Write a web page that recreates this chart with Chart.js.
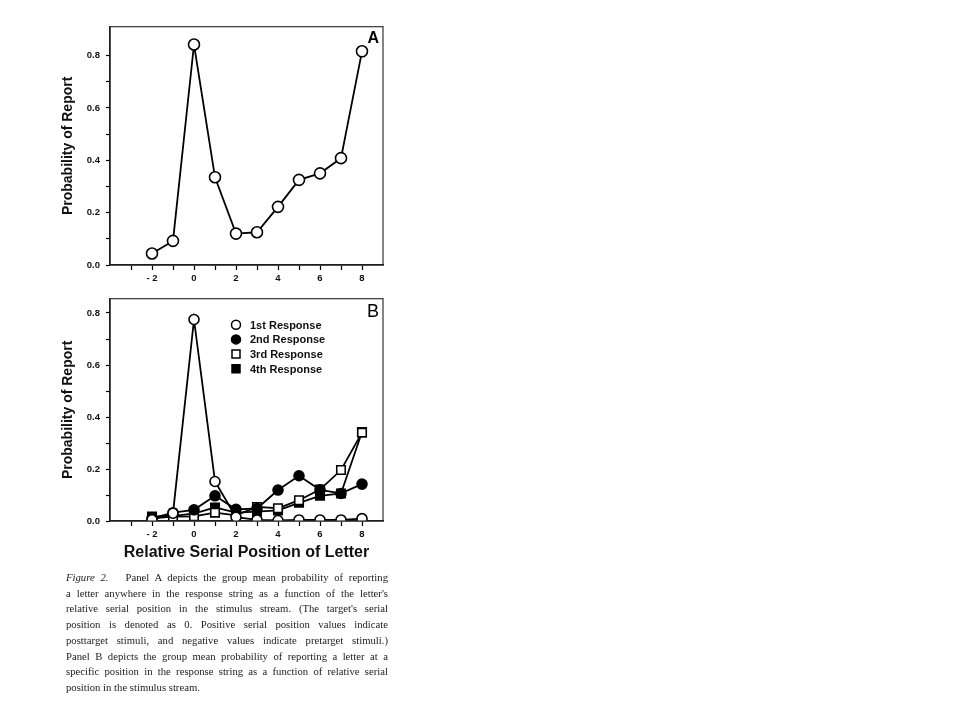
<!DOCTYPE html>
<html>
<head>
<meta charset="utf-8">
<script src="https://cdn.jsdelivr.net/npm/chart.js@4.4.0/dist/chart.umd.min.js"></script>
<style>
  body { margin: 0; background: #fff; width: 960px; height: 720px; position: relative; overflow: hidden; }
  .panel { position: absolute; left: 40px; width: 355px; height: 275px; }
  #caption { position: absolute; left: 66px; top: 570px; width: 322px;
    font-family: "Liberation Serif", "DejaVu Serif", serif; font-size: 10.7px; color: #222; }
  #caption div { text-align: justify; text-align-last: justify; line-height: 15.7px; white-space: nowrap; }
  #caption div.last { text-align-last: left; }
</style>
</head>
<body>
<div class="panel" style="top:15px"><canvas id="chartA"></canvas></div>
<div class="panel" style="top:287px"><canvas id="chartB"></canvas></div>
<div id="caption">
  <div><i>Figure 2.</i>&nbsp;&nbsp; Panel A depicts the group mean probability of reporting</div>
  <div>a letter anywhere in the response string as a function of the letter's</div>
  <div>relative serial position in the stimulus stream. (The target's serial</div>
  <div>position is denoted as 0. Positive serial position values indicate</div>
  <div>posttarget stimuli, and negative values indicate pretarget stimuli.)</div>
  <div>Panel B depicts the group mean probability of reporting a letter at a</div>
  <div>specific position in the response string as a function of relative serial</div>
  <div class="last">position in the stimulus stream.</div>
</div>
<script>
// serial positions relative to the target
const positions = [-2, -1, 0, 1, 2, 3, 4, 5, 6, 7, 8];
// panel A: probability of report anywhere in the response
const panelA = [0.044, 0.092, 0.842, 0.335, 0.12, 0.125, 0.222, 0.325, 0.35, 0.408, 0.816];
// panel B: probability by response position
const resp1 = [0.005, 0.03, 0.775, 0.152, 0.015, 0.004, 0.002, 0.004, 0.004, 0.004, 0.009];
const resp2 = [0.01, 0.032, 0.043, 0.097, 0.045, 0.048, 0.119, 0.174, 0.12, 0.106, 0.142];
const resp3 = [0.01, 0.017, 0.018, 0.032, 0.022, 0.054, 0.049, 0.08, 0.121, 0.196, 0.34];
const resp4 = [0.017, 0.02, 0.028, 0.052, 0.032, 0.036, 0.041, 0.07, 0.097, 0.106, 0.342];
const xLabels = [-2, 0, 2, 4, 6, 8];
const yLabels = [0, 0.2, 0.4, 0.6, 0.8];
const legendNames = ['1st Response', '2nd Response', '3rd Response', '4th Response'];

const sansFont = '"Liberation Sans", Arial, sans-serif';
Chart.defaults.font.family = sansFont;
Chart.defaults.color = '#111';

function toPoints(vals) {
  return positions.map((p, i) => ({ x: p, y: vals[i] }));
}

function series(label, vals, style, filled, r) {
  return {
    label: label,
    data: toPoints(vals),
    borderColor: '#000',
    borderWidth: 1.8,
    pointStyle: style,
    pointRadius: r,
    pointHoverRadius: r,
    pointBorderWidth: 1.6,
    pointBorderColor: '#000',
    pointBackgroundColor: filled ? '#000' : '#fff',
    tension: 0
  };
}

const frame = {
  id: 'frame',
  afterDraw(chart, args, opts) {
    const a = chart.chartArea, ctx = chart.ctx;
    ctx.save();
    ctx.strokeStyle = '#333';
    ctx.lineWidth = 1.2;
    ctx.strokeRect(a.left, a.top, a.right - a.left, a.bottom - a.top);
    ctx.fillStyle = '#000';
    ctx.font = opts.font;
    ctx.textAlign = 'right';
    ctx.textBaseline = 'top';
    ctx.fillText(opts.letter, a.right - 4, a.top + 4);
    if (opts.legend) {
      const ds = chart.data.datasets;
      ctx.font = 'bold 11px ' + sansFont;
      ctx.textAlign = 'left';
      ctx.textBaseline = 'middle';
      ds.forEach((d, i) => {
        const y = a.top + 26 + i * 14.7;
        const x = a.left + 126;
        ctx.lineWidth = 1.5;
        ctx.strokeStyle = '#000';
        ctx.fillStyle = d.pointBackgroundColor;
        ctx.beginPath();
        if (d.pointStyle === 'circle') ctx.arc(x, y, 4.5, 0, Math.PI * 2);
        else ctx.rect(x - 4, y - 4, 8, 8);
        ctx.fill();
        ctx.stroke();
        ctx.fillStyle = '#111';
        ctx.fillText(legendNames[i], x + 14, y + 1);
      });
    }
    ctx.restore();
  }
};

function makeOptions(ymax, xHeight, showTitle, letterFont, legend, letter) {
  return {
    responsive: true,
    maintainAspectRatio: false,
    animation: false,
    layout: { padding: { left: 0, right: 12, top: 10, bottom: 0 } },
    plugins: {
      legend: { display: false },
      tooltip: { enabled: false },
      frame: { letter: letter, font: letterFont, legend: legend }
    },
    scales: {
      x: {
        type: 'linear', min: -4, max: 9,
        afterFit(s) { s.height = xHeight; },
        border: { color: '#000', width: 1.5 },
        grid: {
          drawOnChartArea: false, tickLength: 5, tickWidth: 1.2,
          tickColor: c => (c.tick && c.tick.value > -4 && c.tick.value < 9) ? '#000' : 'rgba(0,0,0,0)'
        },
        ticks: {
          stepSize: 1, autoSkip: false, maxRotation: 0, padding: 3,
          font: { size: 9.5, weight: 'bold' },
          callback: v => xLabels.includes(v) ? (v < 0 ? '- ' + Math.abs(v) : String(v)) : ''
        },
        title: {
          display: showTitle, text: 'Relative Serial Position of Letter',
          font: { size: 16, weight: 'bold' }, color: '#111', padding: { top: 0, bottom: 0 }
        }
      },
      y: {
        min: 0, max: ymax,
        afterFit(s) { s.width = 70; },
        border: { color: '#000', width: 1.5 },
        grid: {
          drawOnChartArea: false, tickLength: 4, tickWidth: 1.2,
          tickColor: c => (c.tick && c.tick.value < 0.85) ? '#000' : 'rgba(0,0,0,0)'
        },
        ticks: {
          stepSize: 0.1, autoSkip: false, padding: 6,
          font: { size: 9.5, weight: 'bold' },
          callback: v => yLabels.some(l => Math.abs(l - v) < 1e-6) ? v.toFixed(1) : ''
        },
        title: {
          display: true, text: 'Probability of Report',
          font: { size: 14, weight: 'bold' }, color: '#111', padding: { top: 20, bottom: 0 }
        }
      }
    }
  };
}

new Chart(document.getElementById('chartA'), {
  type: 'line',
  data: { datasets: [series('Panel A', panelA, 'circle', false, 5.5)] },
  options: makeOptions(0.91, 25, false, 'bold 16px ' + sansFont, false, 'A'),
  plugins: [frame]
});

new Chart(document.getElementById('chartB'), {
  type: 'line',
  data: {
    datasets: [
      series(legendNames[0], resp1, 'circle', false, 5),
      series(legendNames[1], resp2, 'circle', true, 5),
      series(legendNames[2], resp3, 'rect', false, 6),
      series(legendNames[3], resp4, 'rect', true, 6)
    ]
  },
  options: makeOptions(0.855, 41, true, '18px ' + sansFont, true, 'B'),
  plugins: [frame]
});
</script>
</body>
</html>
